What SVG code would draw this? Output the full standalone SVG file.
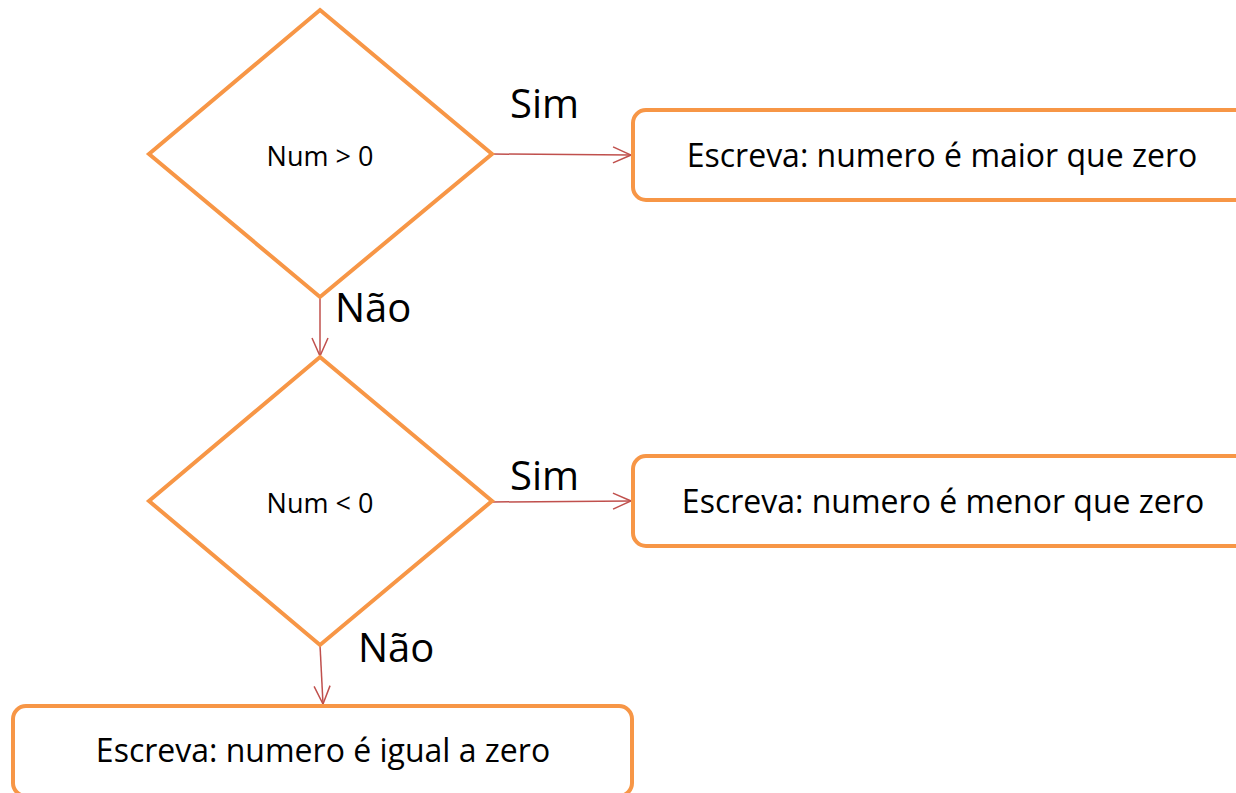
<svg xmlns="http://www.w3.org/2000/svg" width="1236" height="793" viewBox="0 0 1236 793">
<style>
.shape{fill:#fff;stroke:#F79646;stroke-width:4}
.conn{stroke:#C0504D;stroke-width:1.5;fill:none}
.t{font-family:"Open Sans","Noto Sans",sans-serif;fill:#000}
.box{font-size:32px;text-anchor:middle}
.dec{font-size:27px;text-anchor:middle}
.lbl{font-size:40px}
</style>
<defs>
<marker id="arr" viewBox="0 0 20 20" refX="19" refY="10" markerWidth="20" markerHeight="20" markerUnits="userSpaceOnUse" orient="auto">
<path d="M1,2 L19,10 L1,18" fill="none" stroke="#C0504D" stroke-width="1.5"/>
</marker>
</defs>
<g id="connectors">
<line class="conn" x1="492" y1="154" x2="631" y2="155" marker-end="url(#arr)"/>
<line class="conn" x1="320" y1="297" x2="320" y2="356" marker-end="url(#arr)"/>
<line class="conn" x1="492" y1="502" x2="631" y2="501" marker-end="url(#arr)"/>
<line class="conn" x1="320" y1="645" x2="323" y2="704" marker-end="url(#arr)"/>
<text class="t lbl" x="510" y="118">Sim</text>
<text class="t lbl" x="335" y="322">Não</text>
<text class="t lbl" x="510" y="490">Sim</text>
<text class="t lbl" x="358" y="662">Não</text>
</g>
<g id="dec1">
<polygon class="shape" points="320,10 492,154 320,297 149,154"/>
<text class="t dec" x="320" y="166">Num &gt; 0</text>
</g>
<g id="box1">
<rect class="shape" x="633" y="110" width="640" height="90" rx="13"/>
<text class="t box" x="942" y="167">Escreva: numero é maior que zero</text>
</g>
<g id="dec2">
<polygon class="shape" points="320,357 492,501 320,645 149,501"/>
<text class="t dec" x="320" y="513">Num &lt; 0</text>
</g>
<g id="box2">
<rect class="shape" x="633" y="456" width="640" height="90" rx="13"/>
<text class="t box" x="943" y="513">Escreva: numero é menor que zero</text>
</g>
<g id="box3">
<rect class="shape" x="13" y="706" width="619" height="90" rx="13"/>
<text class="t box" x="323" y="762">Escreva: numero é igual a zero</text>
</g>
</svg>
